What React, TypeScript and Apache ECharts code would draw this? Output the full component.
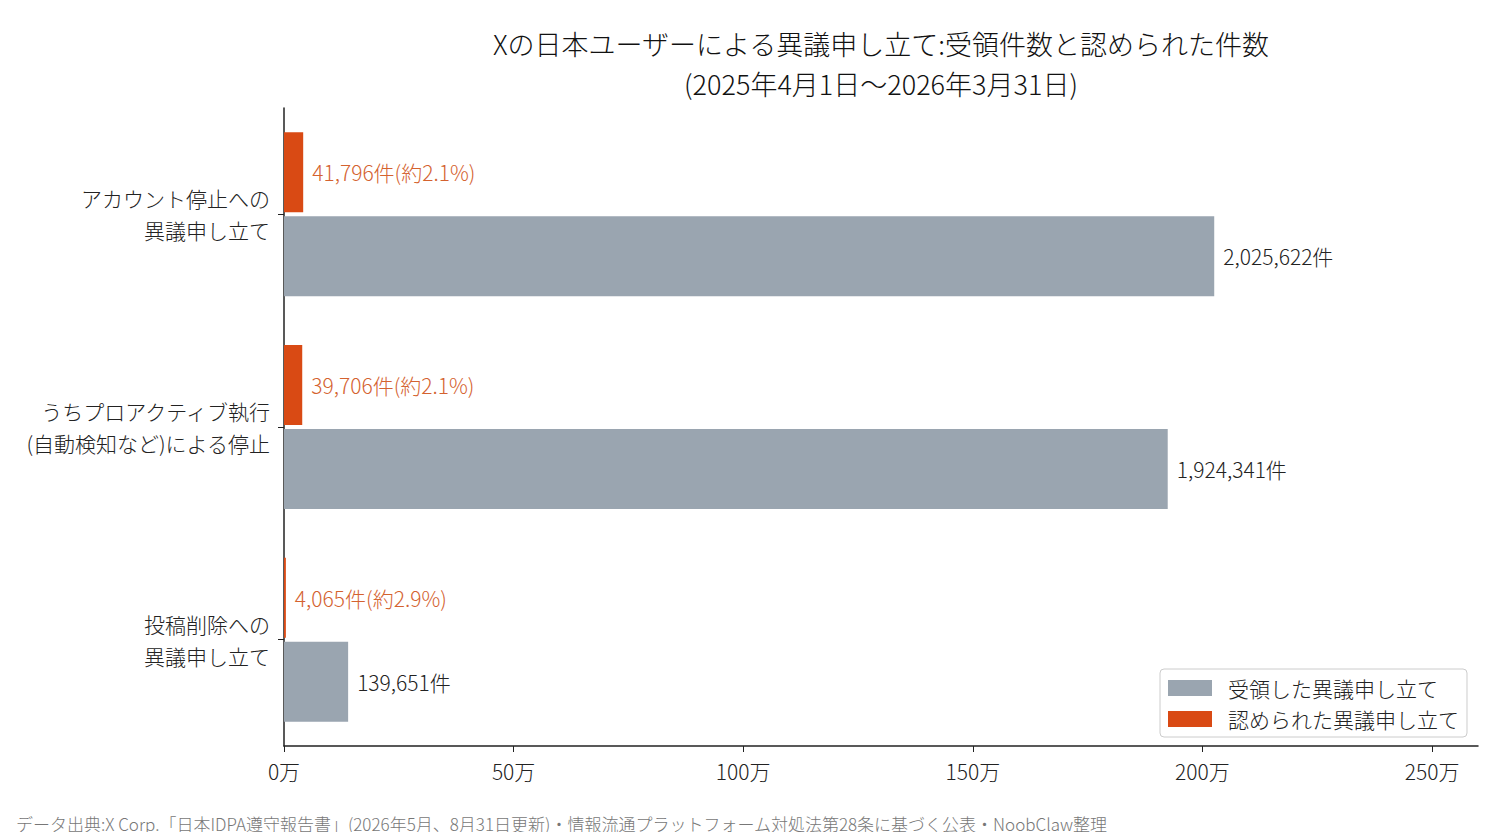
import React, { useEffect, useRef } from 'react';
import * as echarts from 'echarts';

// bottom-to-top order (category axis starts at the bottom)
const categories = [
  '投稿削除への\n異議申し立て',
  'うちプロアクティブ執行\n(自動検知など)による停止',
  'アカウント停止への\n異議申し立て',
];
const received = [139651, 1924341, 2025622];
const granted = [4065, 39706, 41796];
const grantedPct = ['約2.9%', '約2.1%', '約2.1%'];
const xTicks = [0, 500000, 1000000, 1500000, 2000000, 2500000];

const FONT = '"Noto Sans CJK JP", "Noto Sans", sans-serif';
const WEIGHT = 300;
const fmt = (v: number) => v.toLocaleString('en-US');

export default function App() {
  const chartRef = useRef<HTMLDivElement>(null);

  useEffect(() => {
    if (!chartRef.current) return;
    const chart = echarts.init(chartRef.current, null, { renderer: 'svg' });

    chart.setOption({
      animation: false,
      backgroundColor: '#fff',
      textStyle: { fontFamily: FONT, fontWeight: WEIGHT },
      graphic: [
        {
          type: 'text',
          x: 881,
          y: 23,
          style: {
            text: 'Xの日本ユーザーによる異議申し立て:受領件数と認められた件数\n(2025年4月1日〜2026年3月31日)',
            fontFamily: FONT,
            fontWeight: WEIGHT,
            fontSize: 27,
            lineHeight: 40,
            fill: '#111',
            align: 'center',
          },
        },
        {
          type: 'text',
          x: 16,
          y: 815,
          style: {
            text: 'データ出典:X Corp.「日本IDPA遵守報告書」(2026年5月、8月31日更新)・情報流通プラットフォーム対処法第28条に基づく公表・NoobClaw整理',
            fontFamily: FONT,
            fontWeight: WEIGHT,
            fontSize: 17,
            fill: '#777',
          },
        },
      ],
      legend: {
        orient: 'vertical',
        right: 33,
        bottom: 103,
        padding: [8, 8, 7, 8],
        itemWidth: 44,
        itemHeight: 16,
        itemGap: 9,
        borderColor: '#ccc',
        borderWidth: 1,
        borderRadius: 4,
        backgroundColor: '#fff',
        icon: 'rect',
        textStyle: { fontSize: 21, fontWeight: WEIGHT, lineHeight: 22, color: '#222', padding: [0, 0, 0, 11] },
        data: ['受領した異議申し立て', '認められた異議申し立て'],
      },
      grid: { left: 284, right: 22, top: 108, bottom: 94 },
      xAxis: {
        type: 'value',
        min: 0,
        max: 2600000,
        interval: 500000,
        splitLine: { show: false },
        axisLine: { show: true, lineStyle: { color: '#222', width: 1.5 } },
        axisTick: { show: true, length: 6, lineStyle: { color: '#222' }, customValues: xTicks },
        axisLabel: {
          fontSize: 21,
          fontWeight: WEIGHT,
          color: '#222',
          margin: 14,
          customValues: xTicks,
          formatter: (v: number) => `${v / 10000}万`,
        },
      },
      yAxis: {
        type: 'category',
        data: categories,
        axisLine: { show: true, lineStyle: { color: '#222', width: 1.5 } },
        axisTick: { show: true, alignWithLabel: true, length: 6, lineStyle: { color: '#222' } },
        axisLabel: { fontSize: 21, fontWeight: WEIGHT, lineHeight: 32, color: '#222', margin: 14, align: 'right' },
      },
      series: [
        {
          name: '認められた異議申し立て',
          type: 'bar',
          data: granted,
          barWidth: 80,
          barGap: '5%',
          itemStyle: { color: '#d94a14' },
          label: {
            show: true,
            position: 'right',
            distance: 9,
            fontSize: 21,
            fontWeight: WEIGHT,
            color: '#d4622f',
            formatter: (p: any) => `${fmt(p.value)}件(${grantedPct[p.dataIndex]})`,
          },
        },
        {
          name: '受領した異議申し立て',
          type: 'bar',
          data: received,
          barWidth: 80,
          barGap: '5%',
          itemStyle: { color: '#9aa5b0' },
          label: {
            show: true,
            position: 'right',
            distance: 9,
            fontSize: 21,
            fontWeight: WEIGHT,
            color: '#222',
            formatter: (p: any) => `${fmt(p.value)}件`,
          },
        },
      ],
    });

    return () => chart.dispose();
  }, []);

  return <div ref={chartRef} style={{ width: '1500px', height: '840px', margin: '-8px' }} />;
}
